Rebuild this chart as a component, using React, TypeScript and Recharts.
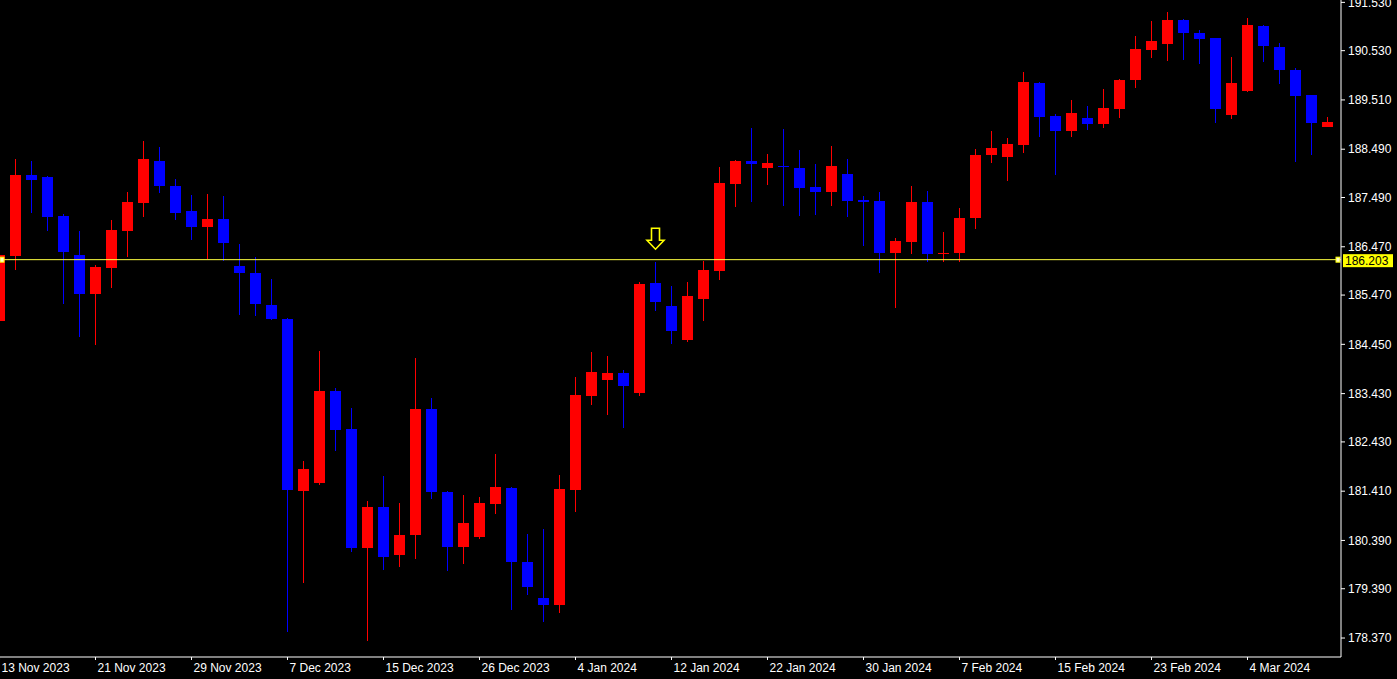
import { ComposedChart, Bar, XAxis, YAxis, ReferenceLine, ReferenceDot } from 'recharts';

// daily candles, 13 Nov 2023 .. 8 Mar 2024
const opens = [
  184.933, 186.279, 187.956, 187.915, 187.107, 186.300, 185.492, 186.030, 186.797, 187.376,
  188.246, 187.728, 187.211, 186.879, 187.045, 186.072, 185.927, 185.264, 184.975, 181.413,
  181.579, 183.484, 182.697, 180.233, 181.082, 180.088, 180.503, 183.111, 181.393, 180.254,
  180.461, 181.144, 181.476, 179.944, 179.198, 179.053, 181.434, 183.380, 183.712, 183.857,
  183.442, 185.720, 185.244, 184.540, 185.389, 185.968, 187.770, 188.246, 188.101, 188.142,
  188.101, 187.708, 187.604, 187.977, 187.438, 187.418, 186.341, 186.569, 187.397, 186.320,
  186.341, 187.066, 188.370, 188.329, 188.577, 189.861, 189.177, 188.867, 189.136, 189.012,
  189.322, 189.923, 190.544, 190.668, 191.165, 190.896, 190.792, 189.198, 189.695, 191.041,
  190.606, 190.130, 189.612, 188.950,
];
const highs = [
  186.362, 188.287, 188.246, 187.935, 187.148, 186.797, 186.093, 187.024, 187.604, 188.660,
  188.536, 187.873, 187.542, 187.563, 187.521, 186.527, 186.258, 185.803, 184.990, 182.035,
  184.312, 183.546, 183.132, 181.206, 181.724, 181.165, 184.167, 183.339, 181.413, 181.331,
  181.289, 182.180, 181.496, 180.523, 180.627, 181.745, 183.774, 184.291, 184.209, 183.919,
  185.741, 186.155, 185.658, 185.741, 186.175, 188.122, 188.267, 188.929, 188.391, 188.908,
  188.474, 188.184, 188.556, 188.287, 187.521, 187.604, 186.652, 187.728, 187.625, 186.776,
  187.273, 188.494, 188.867, 188.722, 190.088, 189.881, 189.219, 189.509, 189.385, 189.736,
  189.944, 190.834, 191.144, 191.331, 191.185, 190.958, 190.800, 190.399, 191.206, 191.062,
  190.689, 190.171, 189.620, 189.157,
];
const lows = [
  184.643, 185.989, 187.169, 186.797, 185.285, 184.602, 184.436, 185.616, 186.258, 187.086,
  187.583, 187.024, 186.610, 186.217, 186.175, 185.057, 185.037, 184.954, 178.494, 179.509,
  181.538, 182.242, 180.151, 178.308, 179.778, 179.840, 180.006, 181.248, 179.757, 179.902,
  180.420, 180.937, 178.950, 179.260, 178.701, 178.888, 180.979, 183.194, 182.987, 182.718,
  183.380, 185.140, 184.457, 184.498, 184.933, 185.782, 187.293, 187.397, 187.749, 187.314,
  187.107, 187.128, 187.314, 187.086, 186.486, 185.927, 185.202, 186.320, 186.155, 186.155,
  186.155, 186.838, 188.204, 187.832, 188.411, 188.743, 187.956, 188.743, 188.888, 188.929,
  189.136, 189.757, 190.378, 190.316, 190.337, 190.254, 189.033, 189.115, 189.674, 190.296,
  189.840, 188.225, 188.370, 188.940,
];
const closes = [
  186.300, 187.956, 187.852, 187.086, 186.362, 185.492, 186.051, 186.817, 187.397, 188.287,
  187.728, 187.169, 186.879, 187.045, 186.548, 185.927, 185.285, 184.975, 181.434, 181.869,
  183.484, 182.676, 180.233, 181.082, 180.047, 180.503, 183.111, 181.393, 180.254, 180.751,
  181.165, 181.496, 179.944, 179.426, 179.053, 181.455, 183.401, 183.877, 183.857, 183.587,
  185.699, 185.327, 184.726, 185.451, 185.989, 187.790, 188.246, 188.184, 188.204, 188.122,
  187.687, 187.604, 188.142, 187.418, 187.397, 186.341, 186.589, 187.397, 186.320, 186.341,
  187.066, 188.370, 188.515, 188.598, 189.881, 189.157, 188.867, 189.240, 189.012, 189.343,
  189.923, 190.565, 190.730, 191.165, 190.896, 190.772, 189.322, 189.861, 191.062, 190.627,
  190.130, 189.592, 189.033, 189.053,
];

const xTickIdx = [0, 6, 12, 18, 24, 30, 36, 42, 48, 54, 60, 66, 72, 78];
const xTickLabels = [
  '13 Nov 2023', '21 Nov 2023', '29 Nov 2023', '7 Dec 2023', '15 Dec 2023', '26 Dec 2023', '4 Jan 2024',
  '12 Jan 2024', '22 Jan 2024', '30 Jan 2024', '7 Feb 2024', '15 Feb 2024', '23 Feb 2024', '4 Mar 2024',
];
const priceTicks = [
  178.37, 179.39, 180.39, 181.41, 182.43, 183.43, 184.45, 185.47, 186.47, 187.49, 188.49, 189.51, 190.53, 191.53,
];

const lastPrice = 186.203;
const arrowIdx = 41;
const arrowPrice = 186.42;

const data = opens.map((open, i) => ({
  i,
  open,
  high: highs[i],
  low: lows[i],
  close: closes[i],
}));

const UP = '#ff0000';
const DOWN = '#0000ff';
const FONT = '"Liberation Sans", Arial, sans-serif';

const Candle = (props: any) => {
  const { x, y, width, height } = props;
  const p = props.payload || props;
  const cx = x + width / 2;
  const k = height / (p.high - p.low);
  const yO = y + (p.high - p.open) * k;
  const yC = y + (p.high - p.close) * k;
  const color = p.close >= p.open ? UP : DOWN;
  const top = Math.min(yO, yC);
  const bh = Math.max(Math.abs(yO - yC), 1);
  return (
    <g shapeRendering="crispEdges">
      <line x1={cx} x2={cx} y1={y} y2={y + height} stroke={color} strokeWidth={1} />
      <rect x={cx - 5.5} y={top} width={11} height={bh} fill={color} />
    </g>
  );
};

const DateTick = (props: any) => {
  const { x, y, payload } = props;
  const label = xTickLabels[xTickIdx.indexOf(payload.value)];
  return (
    <text x={x + 2} y={y + 10} fill="#ffffff" fontSize={12} fontFamily={FONT} textAnchor="start">
      {label}
    </text>
  );
};

const PriceTag = (props: any) => {
  const { x, y, width } = props.viewBox;
  const right = x + width;
  return (
    <g>
      <rect x={x} y={y - 2.5} width={4} height={5} fill="#ffffcc" stroke="#ffff00" />
      <rect x={right - 5} y={y - 2.5} width={4} height={5} fill="#ffffcc" stroke="#ffff00" />
      <rect x={right + 2} y={y - 5.5} width={50} height={13} fill="#ffff00" />
      <text x={right + 4} y={y + 5} fill="#000000" fontSize={12} fontFamily={FONT}>
        {lastPrice.toFixed(3)}
      </text>
    </g>
  );
};

const Arrow = (props: any) => {
  const { cx, cy } = props;
  const pts = [
    [cx - 4, cy - 21], [cx + 4, cy - 21], [cx + 4, cy - 9], [cx + 8.5, cy - 9],
    [cx, cy], [cx - 8.5, cy - 9], [cx - 4, cy - 9],
  ].map((q) => q.join(',')).join(' ');
  return <polygon points={pts} fill="none" stroke="#ffff00" strokeWidth={1.6} />;
};

const App = () => {
  return (
    <div style={{ position: 'fixed', left: 0, top: 0, width: 1397, height: 679, background: '#000000' }}>
      <ComposedChart width={1397} height={679} data={data} margin={{ top: 0, right: 0, left: 0, bottom: 0 }}>
        <XAxis
          dataKey="i"
          type="number"
          domain={[0.03125, 83.84375]}
          allowDataOverflow
          ticks={xTickIdx}
          interval={0}
          height={22}
          tickSize={3}
          tickMargin={2}
          axisLine={{ stroke: '#ffffff' }}
          tickLine={{ stroke: '#ffffff' }}
          tick={<DateTick />}
        />
        <YAxis
          orientation="right"
          type="number"
          domain={[177.977, 191.579]}
          allowDataOverflow
          ticks={priceTicks}
          interval={0}
          width={56}
          tickSize={4}
          tickMargin={3}
          axisLine={{ stroke: '#ffffff' }}
          tickLine={{ stroke: '#ffffff' }}
          tick={{ fill: '#ffffff', fontSize: 12, fontFamily: FONT }}
          tickFormatter={(v: number) => v.toFixed(3)}
        />
        <Bar
          dataKey={(d: any) => [d.low, d.high]}
          barSize={12}
          shape={<Candle />}
          isAnimationActive={false}
        />
        <ReferenceLine
          y={lastPrice}
          stroke="#ffff40"
          strokeWidth={1}
          label={(p: any) => <PriceTag {...p} />}
        />
        <ReferenceDot x={arrowIdx} y={arrowPrice} shape={<Arrow />} />
      </ComposedChart>
    </div>
  );
};

export default App;
